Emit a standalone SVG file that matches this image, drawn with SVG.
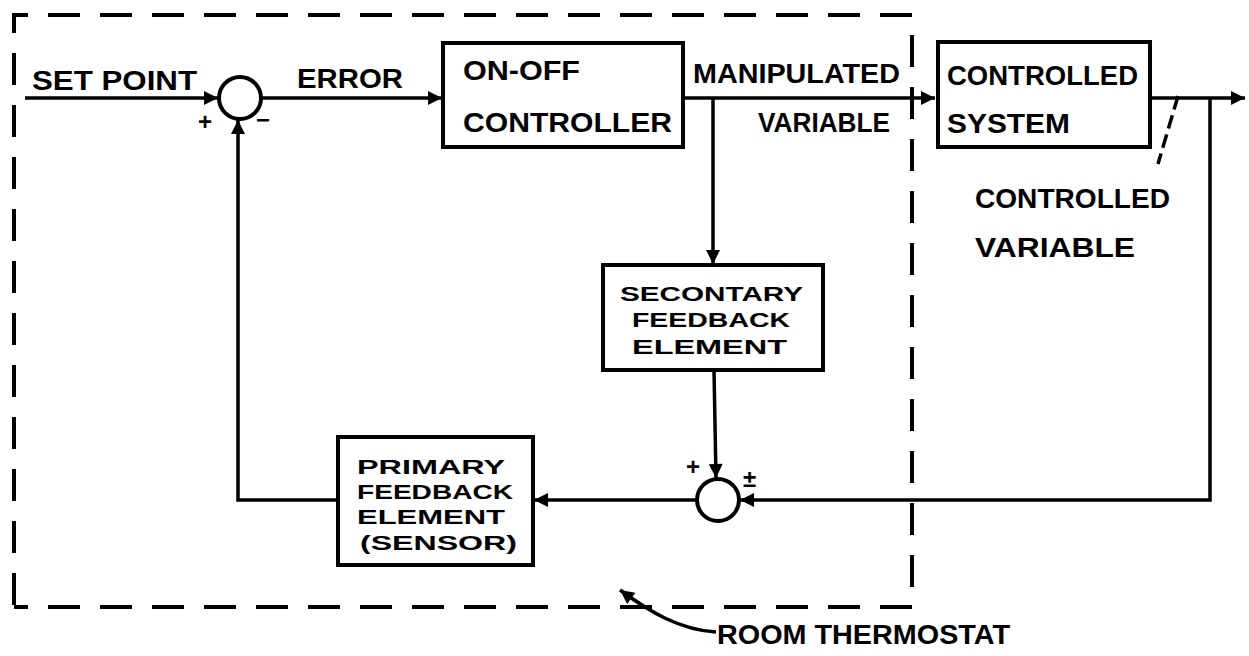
<svg xmlns="http://www.w3.org/2000/svg" width="1249" height="656" viewBox="0 0 1249 656">
<style>
.bg{fill:#ffffff}
.box{fill:#ffffff;stroke:#000;stroke-width:4}
.sum{fill:#ffffff;stroke:#000;stroke-width:4}
.ln{fill:none;stroke:#000;stroke-width:3.5}
.dash{fill:none;stroke:#000;stroke-width:4;stroke-dasharray:32 20}
.t{font-family:"Liberation Sans",Arial,sans-serif;font-weight:bold;fill:#000}
.lbl{font-size:27px}
.sm{font-size:21px}
.sign{font-size:24px}
</style>
<defs>
<marker id="ah" viewBox="0 0 10 10" refX="10" refY="5" markerWidth="5" markerHeight="4" markerUnits="strokeWidth" orient="auto">
<path d="M0,0 L10,5 L0,10 Z" fill="#000"/>
</marker>
</defs>
<rect class="bg" x="0" y="0" width="1249" height="656"/>

<g id="boundary">
<path class="dash" d="M14,605 L14,15 L912,15 L912,607 L14,607"/>
</g>

<g id="connectors">
<line class="ln" x1="25" y1="98" x2="218" y2="98" marker-end="url(#ah)"/>
<line class="ln" x1="261" y1="98" x2="442" y2="98" marker-end="url(#ah)"/>
<line class="ln" x1="684" y1="98" x2="935" y2="98" marker-end="url(#ah)"/>
<line class="ln" x1="713" y1="98" x2="713" y2="264" marker-end="url(#ah)"/>
<line class="ln" x1="714" y1="370" x2="716" y2="478" marker-end="url(#ah)"/>
<line class="ln" x1="1151" y1="98" x2="1245" y2="98" marker-end="url(#ah)"/>
<polyline class="ln" points="1210,98 1210,500 740,500" marker-end="url(#ah)"/>
<line class="ln" x1="696" y1="500" x2="534" y2="500" marker-end="url(#ah)"/>
<polyline class="ln" points="338,500 238,500 238,120" marker-end="url(#ah)"/>
<line class="ln" x1="1178" y1="96" x2="1158" y2="164" stroke-dasharray="14 6" stroke-width="2.5"/>
<path class="ln" d="M716,632 C680,630 650,612 620,590" marker-end="url(#ah)"/>
</g>

<g id="sum1">
<circle class="sum" cx="240" cy="98" r="21"/>
<text class="t sign" x="198" y="130">+</text>
<text class="t sign" x="256" y="128">−</text>
</g>

<g id="sum2">
<circle class="sum" cx="718" cy="500" r="21"/>
<text class="t sign" x="686" y="475">+</text>
<text class="t sign" x="743" y="487">±</text>
</g>

<g id="controller">
<rect class="box" x="443" y="43" width="240" height="104"/>
<text class="t lbl" x="463" y="80" textLength="117" lengthAdjust="spacingAndGlyphs">ON-OFF</text>
<text class="t lbl" x="463" y="132" textLength="209" lengthAdjust="spacingAndGlyphs">CONTROLLER</text>
</g>

<g id="system">
<rect class="box" x="938" y="42" width="212" height="105"/>
<text class="t lbl" x="947" y="85" textLength="191" lengthAdjust="spacingAndGlyphs">CONTROLLED</text>
<text class="t lbl" x="947" y="133" textLength="123" lengthAdjust="spacingAndGlyphs">SYSTEM</text>
</g>

<g id="secondary">
<rect class="box" x="603" y="265" width="220" height="105"/>
<text class="t sm" x="620" y="301" textLength="183" lengthAdjust="spacingAndGlyphs">SECONTARY</text>
<text class="t sm" x="632" y="327" textLength="158" lengthAdjust="spacingAndGlyphs">FEEDBACK</text>
<text class="t sm" x="632" y="354" textLength="155" lengthAdjust="spacingAndGlyphs">ELEMENT</text>
</g>

<g id="primary">
<rect class="box" x="338" y="437" width="195" height="128"/>
<text class="t sm" x="357" y="474" textLength="148" lengthAdjust="spacingAndGlyphs">PRIMARY</text>
<text class="t sm" x="357" y="499" textLength="156" lengthAdjust="spacingAndGlyphs">FEEDBACK</text>
<text class="t sm" x="357" y="524" textLength="148" lengthAdjust="spacingAndGlyphs">ELEMENT</text>
<text class="t sm" x="360" y="550" textLength="157" lengthAdjust="spacingAndGlyphs">(SENSOR)</text>
</g>

<g id="labels">
<text class="t lbl" x="32" y="90" textLength="165" lengthAdjust="spacingAndGlyphs">SET POINT</text>
<text class="t lbl" x="297" y="88" textLength="106" lengthAdjust="spacingAndGlyphs">ERROR</text>
<text class="t lbl" x="693" y="83" textLength="207" lengthAdjust="spacingAndGlyphs">MANIPULATED</text>
<text class="t lbl" x="758" y="132" textLength="132" lengthAdjust="spacingAndGlyphs">VARIABLE</text>
<text class="t lbl" x="975" y="208" textLength="195" lengthAdjust="spacingAndGlyphs">CONTROLLED</text>
<text class="t lbl" x="975" y="257" textLength="160" lengthAdjust="spacingAndGlyphs">VARIABLE</text>
<text class="t lbl" x="717" y="644" textLength="293" lengthAdjust="spacingAndGlyphs">ROOM THERMOSTAT</text>
</g>
</svg>
